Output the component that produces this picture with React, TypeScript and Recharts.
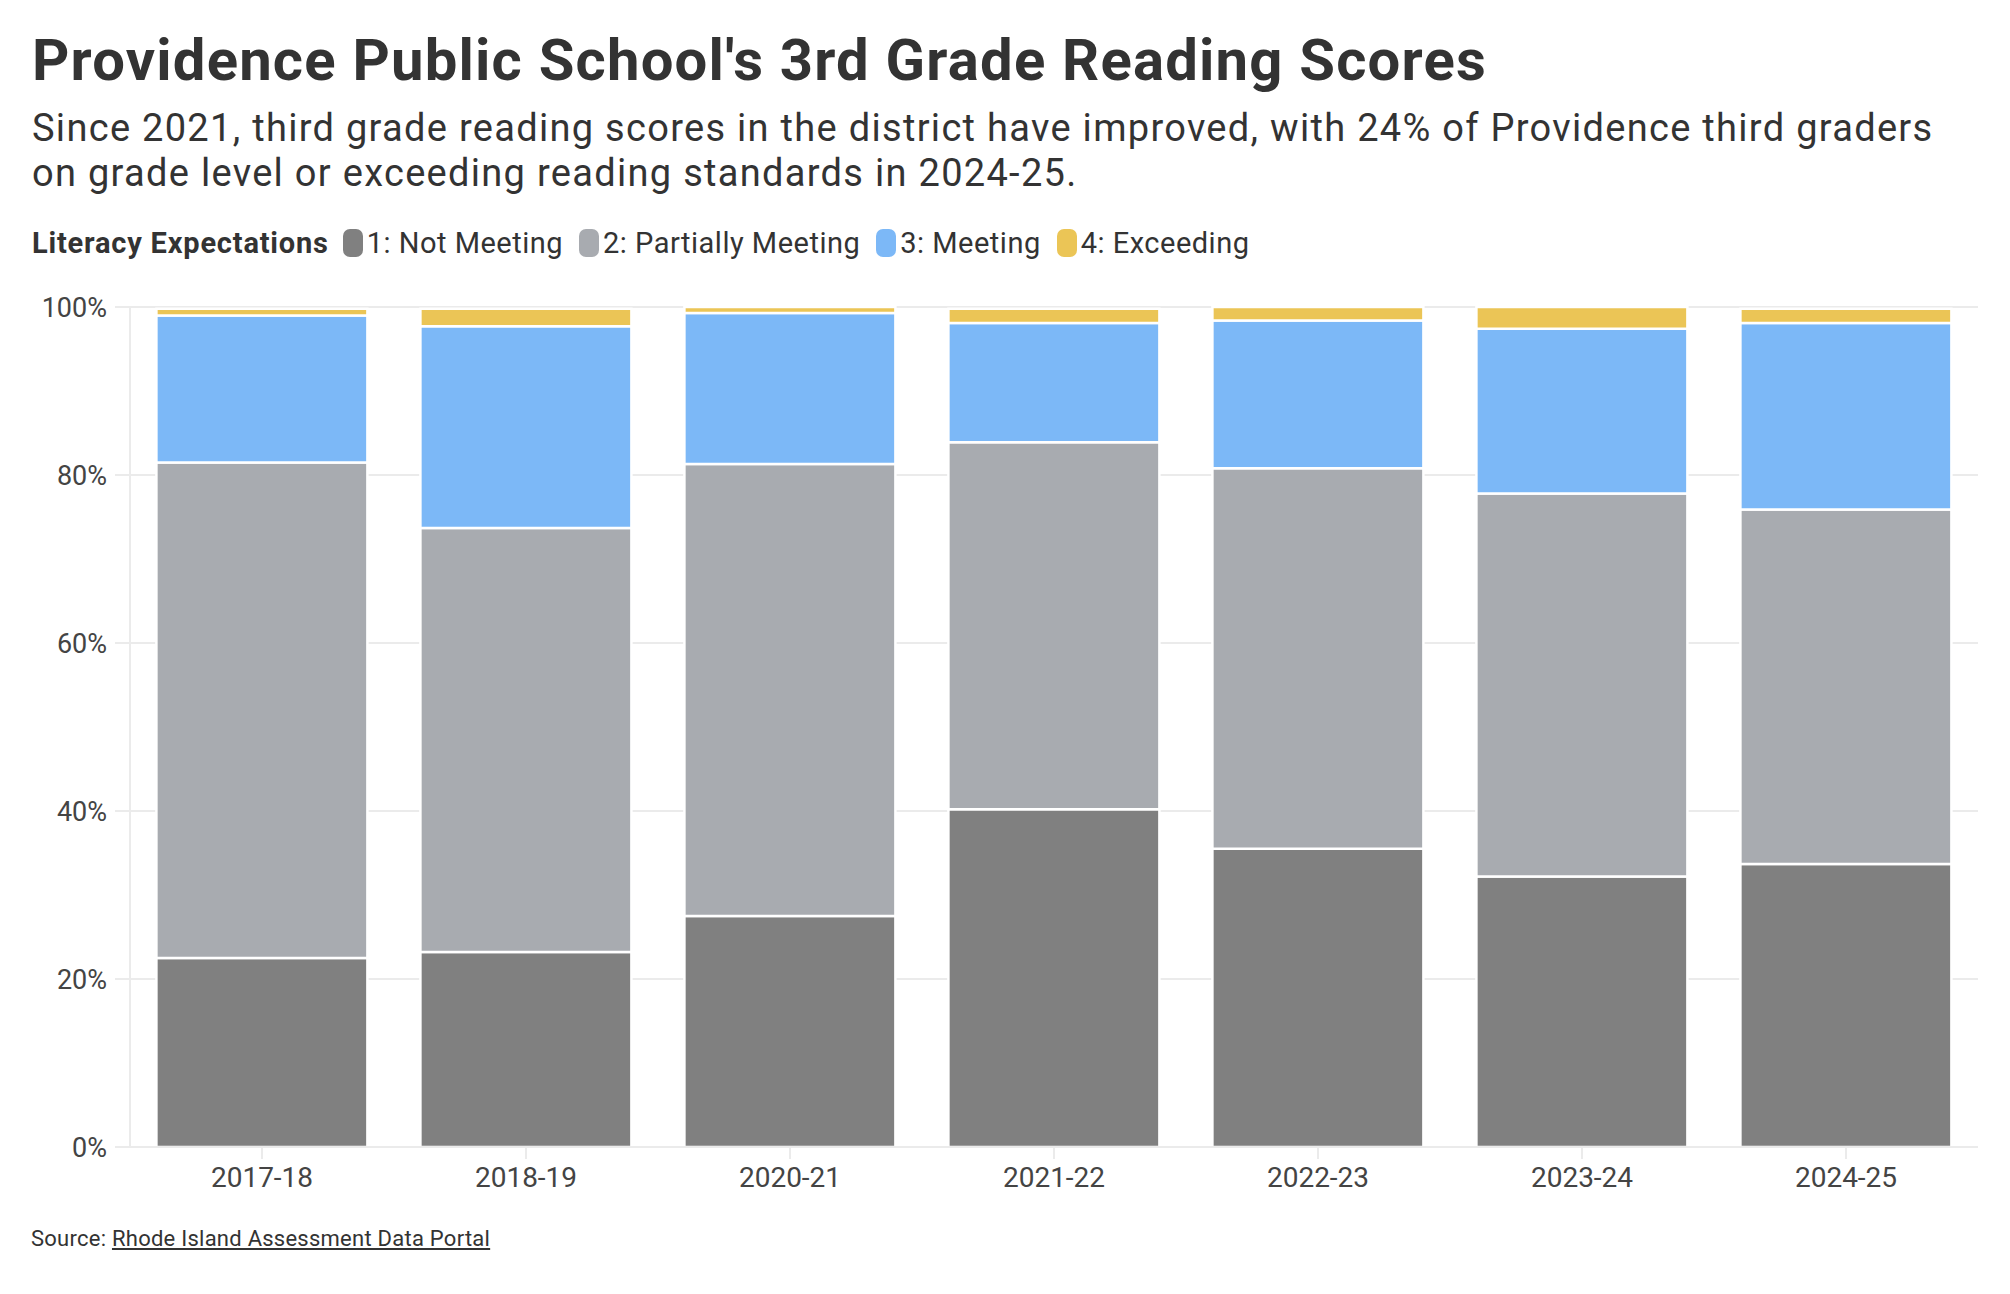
import React from "react";
import { BarChart, Bar, XAxis, YAxis, CartesianGrid } from "recharts";

const years = ["2017-18", "2018-19", "2020-21", "2021-22", "2022-23", "2023-24", "2024-25"];
const notMeeting = [22.5, 23.2, 27.5, 40.2, 35.5, 32.2, 33.7];
const partiallyMeeting = [59.0, 50.5, 53.8, 43.7, 45.3, 45.6, 42.2];
const meeting = [17.5, 24.0, 18.0, 14.2, 17.6, 19.6, 22.2];
const exceeding = [0.8, 2.1, 0.7, 1.7, 1.6, 2.6, 1.7];
const yTicks = [0, 20, 40, 60, 80, 100];

const seriesKeys = ["notMeeting", "partiallyMeeting", "meeting", "exceeding"];
const seriesNames = ["1: Not Meeting", "2: Partially Meeting", "3: Meeting", "4: Exceeding"];
const seriesColors = ["#808080", "#a8abb0", "#7cb8f7", "#ebc556"];

const title = "Providence Public School's 3rd Grade Reading Scores";
const subtitleLines = [
  "Since 2021, third grade reading scores in the district have improved, with 24% of Providence third graders",
  "on grade level or exceeding reading standards in 2024-25.",
];
const legendTitle = "Literacy Expectations";
const sourceLabel = "Source: ";
const sourceLink = "Rhode Island Assessment Data Portal";

const data = years.map((year, i) => ({
  year,
  notMeeting: notMeeting[i],
  partiallyMeeting: partiallyMeeting[i],
  meeting: meeting[i],
  exceeding: exceeding[i],
}));

const FONT = "Roboto, 'Noto Sans', sans-serif";
const TEXT = "#333333";

export default function App() {
  return (
    <div
      style={{
        position: "absolute",
        left: 0,
        top: 0,
        width: 2010,
        height: 1294,
        background: "#ffffff",
        fontFamily: FONT,
        color: TEXT,
        overflow: "hidden",
      }}
    >
      <div style={{ position: "absolute", left: 0, top: 0 }}>
        <BarChart
          width={2010}
          height={1294}
          data={data}
          margin={{ top: 307, right: 32, bottom: 0, left: 0 }}
          barCategoryGap="10%"
        >
          <CartesianGrid vertical={false} stroke="#ebebeb" strokeWidth={2} />
          <XAxis
            dataKey="year"
            height={147}
            interval={0}
            tickSize={12}
            tickMargin={8}
            axisLine={{ stroke: "#ebebeb", strokeWidth: 2 }}
            tickLine={{ stroke: "#ebebeb", strokeWidth: 2 }}
            tick={{ fill: "#444444", fontSize: 28, fontFamily: FONT }}
          />
          <YAxis
            width={130}
            domain={[0, 100]}
            ticks={yTicks}
            tickFormatter={(v: number) => `${v}%`}
            tickSize={15}
            tickMargin={8}
            axisLine={{ stroke: "#ebebeb", strokeWidth: 2 }}
            tickLine={{ stroke: "#ebebeb", strokeWidth: 2 }}
            tick={{ fill: "#444444", fontSize: 27, fontFamily: FONT }}
          />
          {seriesKeys.map((k, i) => (
            <Bar
              key={k}
              dataKey={k}
              name={seriesNames[i]}
              stackId="a"
              fill={seriesColors[i]}
              stroke="#ffffff"
              strokeWidth={2.5}
              isAnimationActive={false}
            />
          ))}
        </BarChart>
      </div>

      <div
        style={{
          position: "absolute",
          left: 32,
          top: 31,
          fontSize: 58,
          lineHeight: "58px",
          fontWeight: 700,
          letterSpacing: 1.2,
          whiteSpace: "nowrap",
        }}
      >
        {title}
      </div>

      <div
        style={{
          position: "absolute",
          left: 32,
          top: 106,
          fontSize: 38,
          lineHeight: "45px",
          letterSpacing: 1.3,
          whiteSpace: "nowrap",
        }}
      >
        {subtitleLines.map((l) => (
          <div key={l}>{l}</div>
        ))}
      </div>

      <div
        style={{
          position: "absolute",
          left: 32,
          top: 229,
          height: 28,
          display: "flex",
          alignItems: "center",
          fontSize: 29,
          letterSpacing: 0.5,
          whiteSpace: "nowrap",
        }}
      >
        <span style={{ fontWeight: 700, letterSpacing: 0.8, marginRight: 14 }}>{legendTitle}</span>
        {seriesNames.map((n, i) => (
          <span key={n} style={{ display: "flex", alignItems: "center", marginRight: 16 }}>
            <span
              style={{
                display: "inline-block",
                width: 20,
                height: 28,
                borderRadius: 7,
                background: seriesColors[i],
                marginRight: 4,
              }}
            />
            <span>{n}</span>
          </span>
        ))}
      </div>

      <div
        style={{
          position: "absolute",
          left: 31,
          top: 1228,
          fontSize: 22,
          lineHeight: "22px",
          letterSpacing: 0.25,
          whiteSpace: "nowrap",
        }}
      >
        {sourceLabel}
        <span style={{ textDecoration: "underline" }}>{sourceLink}</span>
      </div>
    </div>
  );
}
